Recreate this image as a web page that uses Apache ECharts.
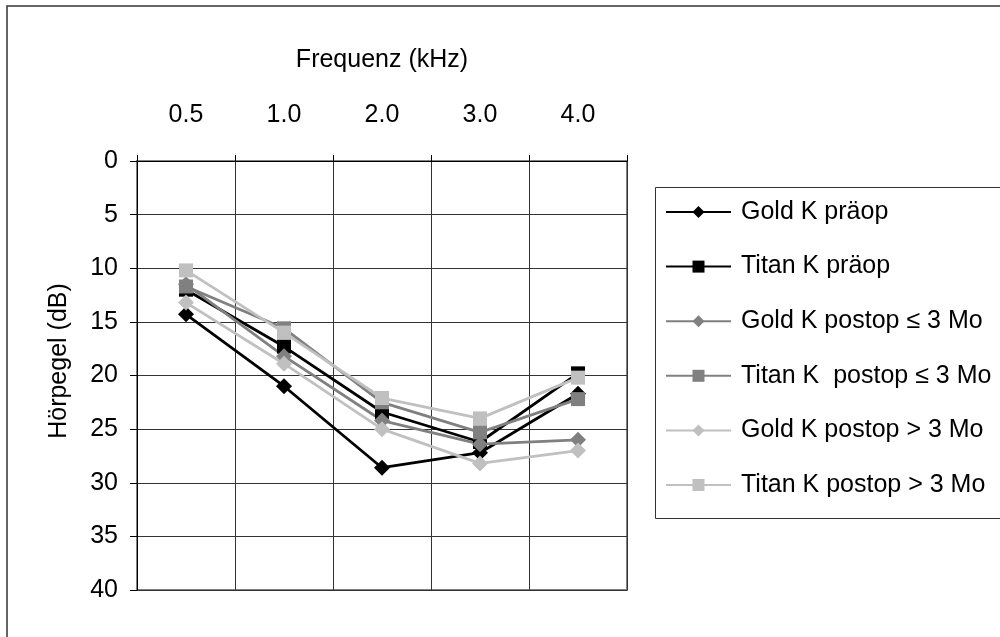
<!DOCTYPE html>
<html>
<head>
<meta charset="utf-8">
<script src="https://cdn.jsdelivr.net/npm/echarts@6/dist/echarts.min.js"></script>
<style>
  html, body { margin: 0; padding: 0; background: #fff; }
  #chart { width: 1000px; height: 637px; }
</style>
</head>
<body>
<div id="chart"></div>
<script>
// Frequencies (kHz) along the top axis
const frequencies = ['0.5', '1.0', '2.0', '3.0', '4.0'];

// Mean hearing level (dB) per group
const goldPreop       = [14.3, 21.0, 28.6, 27.2, 21.7];
const titanPreop      = [12.0, 17.3, 23.4, 26.2, 19.8];
const goldPostEarly   = [11.5, 18.2, 24.2, 26.4, 26.0];
const titanPostEarly  = [11.7, 15.6, 22.5, 25.3, 22.2];
const goldPostLate    = [13.2, 18.9, 25.0, 28.2, 27.0];
const titanPostLate   = [10.2, 16.0, 22.1, 24.0, 20.2];

const seriesNames = [
  'Gold K präop',
  'Titan K präop',
  'Gold K postop ≤ 3 Mo',
  'Titan K  postop ≤ 3 Mo',
  'Gold K postop > 3 Mo',
  'Titan K postop > 3 Mo'
];

const FONT = '"Liberation Sans", Arial, sans-serif';
const FS = 25;

function mkSeries(name, data, color, symbol) {
  return {
    name: name,
    type: 'line',
    data: data,
    symbol: symbol,
    symbolSize: symbol === 'diamond' ? 16 : 14,
    showSymbol: true,
    color: color,
    lineStyle: { color: color, width: 2.8 },
    itemStyle: { color: color, borderWidth: 0 },
    emphasis: { disabled: true },
    animation: false
  };
}

const chart = echarts.init(document.getElementById('chart'), null, { renderer: 'canvas' });

chart.setOption({
  backgroundColor: '#ffffff',
  textStyle: { fontFamily: FONT },
  grid: {
    left: 137, right: 373, top: 161, bottom: 47,
    show: true, borderColor: '#808080', borderWidth: 2, backgroundColor: 'transparent'
  },
  legend: {
    orient: 'vertical',
    left: 665,
    top: 199.5,
    padding: 0,
    itemWidth: 65,
    itemHeight: 15,
    itemGap: 29.6,
    selectedMode: false,
    textStyle: { fontFamily: FONT, fontSize: FS, color: '#000', padding: [0, 0, 0, 5] },
    data: seriesNames
  },
  xAxis: {
    type: 'category',
    position: 'top',
    data: frequencies,
    boundaryGap: true,
    name: 'Frequenz (kHz)',
    nameLocation: 'middle',
    nameGap: 88.5,
    nameTextStyle: { fontFamily: FONT, fontSize: FS, color: '#000' },
    axisLine: { show: true, lineStyle: { color: '#000', width: 1 } },
    axisTick: { show: true, length: 6, lineStyle: { color: '#000' } },
    axisLabel: { fontFamily: FONT, fontSize: FS, color: '#000', margin: 33.5 },
    splitLine: { show: true, lineStyle: { color: '#333', width: 1 } }
  },
  yAxis: {
    type: 'value',
    inverse: true,
    min: 0,
    max: 40,
    interval: 5,
    axisLine: { show: true, lineStyle: { color: '#000', width: 1 } },
    axisTick: { show: true, length: 7, lineStyle: { color: '#000' } },
    axisLabel: { fontFamily: FONT, fontSize: FS, color: '#000', margin: 19 },
    splitLine: { show: true, lineStyle: { color: '#333', width: 1 } }
  },
  graphic: [
    {
      // outer chart frame
      type: 'rect', silent: true, z: 0,
      shape: { x: 7, y: 6, width: 1100, height: 700 },
      style: { fill: 'none', stroke: '#333', lineWidth: 1.5 }
    },
    {
      // legend frame
      type: 'rect', silent: true, z: 0,
      shape: { x: 655.5, y: 187.5, width: 400, height: 331 },
      style: { fill: 'none', stroke: '#333', lineWidth: 1 }
    },
    {
      // y axis title
      type: 'text', silent: true,
      x: 59, y: 361, rotation: Math.PI / 2,
      style: {
        text: 'Hörpegel (dB)', font: FS + 'px ' + FONT, fill: '#000',
        align: 'center', verticalAlign: 'middle'
      }
    }
  ],
  series: [
    mkSeries(seriesNames[0], goldPreop, '#000000', 'diamond'),
    mkSeries(seriesNames[1], titanPreop, '#000000', 'rect'),
    mkSeries(seriesNames[2], goldPostEarly, '#808080', 'diamond'),
    mkSeries(seriesNames[3], titanPostEarly, '#808080', 'rect'),
    mkSeries(seriesNames[4], goldPostLate, '#c0c0c0', 'diamond'),
    mkSeries(seriesNames[5], titanPostLate, '#c0c0c0', 'rect')
  ]
});
</script>
</body>
</html>
